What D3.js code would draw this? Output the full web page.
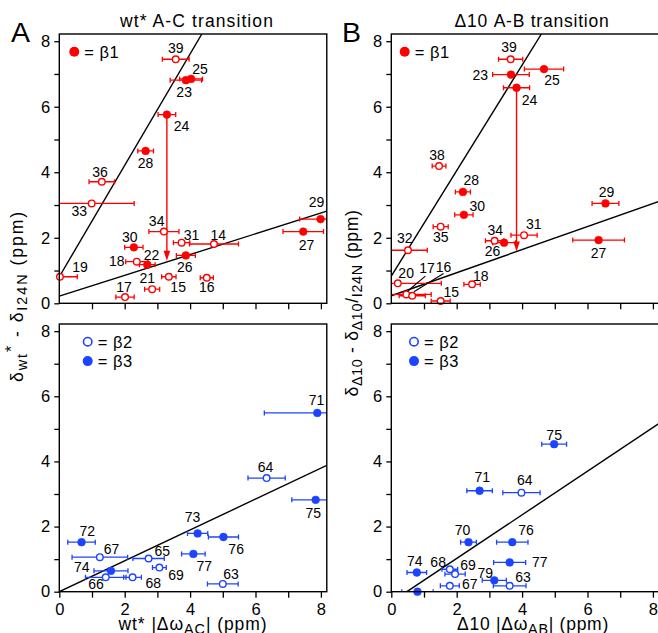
<!DOCTYPE html>
<html><head><meta charset="utf-8">
<script src="https://cdn.jsdelivr.net/npm/d3@7"></script>
<style>
body{margin:0;background:#fff}
svg{display:block}
text{font-family:"Liberation Sans",Arial,Helvetica,sans-serif;fill:#000}
</style>
</head><body><svg id="c" width="658" height="633"></svg>
<script>
// ---- data: [residue, |Δω| (ppm), Δδ (ppm), x error, open(1)/filled(0)] ----
const wtBeta1 = [
 [39,3.56,7.45,0.41,1],[25,4.03,6.85,0.35,0],[23,3.87,6.81,0.48,0],[24,3.29,5.76,0.27,0],
 [28,2.64,4.65,0.24,0],[36,1.30,3.71,0.39,1],[33,0.99,3.05,1.30,1],[34,3.20,2.19,0.46,1],
 [31,3.74,1.85,0.25,1],[14,4.73,1.81,0.75,1],[30,2.28,1.71,0.28,0],[18,2.37,1.27,0.34,1],
 [22,2.69,1.18,0.24,0],[26,3.87,1.46,0.29,0],[19,0.02,0.81,0.53,1],[21,2.84,0.43,0.23,1],
 [15,3.35,0.81,0.22,1],[16,4.51,0.78,0.20,1],[17,2.01,0.19,0.28,1],[29,7.99,2.57,0.64,0],
 [27,7.46,2.19,0.62,0]
];
const wtBeta23 = [
 [71,7.89,5.49,1.62,0],[64,6.34,3.49,0.57,1],[75,7.84,2.82,0.73,0],[73,4.23,1.79,0.31,0],
 [76,5.02,1.68,0.46,0],[77,4.10,1.16,0.36,0],[72,0.68,1.52,0.42,0],[67,1.24,1.06,0.85,1],
 [65,2.73,1.02,0.48,1],[69,3.06,0.74,0.21,1],[74,1.58,0.64,0.52,0],[66,1.42,0.44,0.62,1],
 [68,2.24,0.44,0.27,1],[63,5.00,0.24,0.47,1]
];
const d10Beta1 = [
 [39,3.65,7.45,0.37,1],[23,3.66,6.98,0.56,0],[25,4.67,7.15,0.60,0],[24,3.83,6.58,0.40,0],
 [38,1.46,4.19,0.21,1],[28,2.19,3.40,0.23,0],[30,2.22,2.70,0.28,0],[35,1.51,2.34,0.23,1],
 [32,0.51,1.62,0.59,1],[34,3.16,1.91,0.28,1],[26,3.45,1.85,0.35,0],[31,4.06,2.08,0.40,1],
 [29,6.55,3.05,0.41,0],[27,6.34,1.93,0.79,0],[20,0.20,0.61,1.33,1],[17,0.46,0.27,0.76,1],
 [16,0.64,0.23,0.40,1],[15,1.51,0.07,0.29,1],[18,2.47,0.58,0.25,1]
];
const d10Beta23 = [
 [75,4.98,4.53,0.38,0],[71,2.70,3.10,0.39,0],[64,3.98,3.04,0.57,1],[70,2.36,1.52,0.24,0],
 [76,3.70,1.52,0.48,0],[77,3.62,0.90,0.49,0],[74,0.78,0.59,0.30,0],[68,1.79,0.69,0.24,1],
 [69,1.95,0.54,0.31,1],[79,3.15,0.35,0.37,0],[63,3.62,0.18,0.50,1],[67,1.79,0.18,0.29,1],
 [null,0.80,0.00,0.48,0]
];
// fit lines: [slope, intercept]
const wtBeta1Fits = [[1.70,0.81],[0.317,0.22]];
const wtBeta23Fits = [[0.474,0.0]];
const d10Beta1Fits = [[1.61,0.83],[0.352,0.23]];
const d10Beta23Fits = [[0.67,-0.32]];
// arrows: [x, from y, to y]
const wtArrow = [3.29,5.76,1.30];
const d10Arrow = [3.83,6.58,1.58];
// axis ticks
const tickValues = [0,1,2,3,4,5,6,7,8];
const tickLabels = ["0","","2","","4","","6","","8"];

// ---- label layout (pixel offsets from the point) ----
const wtBeta1Lab = [[0,-11.3],[9,-10.3],[-1.7,12],[14.7,11.7],[0,11.7],[-1.7,-10],[-12.3,7.7],[-7.3,-10.7],
 [10,-7.7],[4.3,-9],[-4,-10.7],[-20,-1],[4.3,-9.7],[-1,11.3],[20,-10],[-5,-11],[9.3,10.7],[0,9],[-1,-9.7],
 [-4,-17.3],[3.3,13.7]];
const wtBeta23Lab = [[-0.7,-12.7],[-1,-11],[-2.3,12.7],[-5,-16.3],[12.7,12],[11,12],[5.7,-11.3],[11.7,-8],
 [13.7,-7],[16.7,7.3],[-29.3,-3.7],[-9.7,7],[20.7,5.3],[8.3,-10.3]];
const d10Beta1Lab = [[-1.7,-12],[-30.7,0.7],[8,11],[13,12.3],[-2,-11],[8.3,-12],[13.3,-9],[0,10.7],[-3.3,-12],
 [0.7,-10.7],[-11.7,8],[9.7,-11],[1,-11],[0,13.3],[8.3,-10.7],[20.7,-26],[31.3,-29],[10.7,-9.3],[8.7,-8.3]];
const d10Beta23Lab = [[0,-9.3],[2.7,-13.7],[3.3,-12.3],[-6,-11.7],[13.7,-11.7],[30,0],[-2,-11.7],[-11.7,-7.7],
 [13,-9.3],[-9,-7.7],[13.3,-8.7],[20,-1.7],[0,0]];
// leader lines for crowded labels (residue -> [x1,y1,x2,y2] offsets)
const d10Leaders = {17:[19,-18.3,1.7,-3.7], 16:[31.3,-22.3,1.7,-4]};

const RED = "#ff0000", BLUE = "#1c44ff";
const FONT = "'Liberation Sans',Arial,Helvetica,sans-serif";
const svg = d3.select("#c");
const XMAX = 8.18, YMAX = 8.22, PXU = 32.7;

let clipN = 0;
function panel(cfg){
  const x = d3.scaleLinear().domain([0,XMAX]).range([cfg.x0, cfg.x0 + XMAX*PXU]);
  const y = d3.scaleLinear().domain([0,YMAX]).range([cfg.yb, cfg.yt]);
  const g = svg.append("g");
  const cid = "clip"+(clipN++);
  g.append("clipPath").attr("id",cid).append("rect")
    .attr("x",x(0)).attr("y",y(YMAX)).attr("width",x(XMAX)-x(0)).attr("height",y(0)-y(YMAX));
  // axes
  const ya = g.append("g").attr("transform",`translate(${x(0)},0)`)
    .call(d3.axisLeft(y).tickValues(tickValues).tickSize(5).tickPadding(4).tickFormat((d,i)=>tickLabels[i]));
  const xa = g.append("g").attr("transform",`translate(0,${y(0)})`)
    .call(d3.axisBottom(x).tickValues(cfg.xLabels ? tickValues : tickValues.slice(1)).tickSize(6).tickPadding(5.3)
      .tickFormat((d,i)=> cfg.xLabels ? tickLabels[i] : ""));
  [ya,xa].forEach(a=>{
    a.select(".domain").remove();
    a.selectAll("line").attr("stroke","#000").attr("stroke-width",1.3);
    a.selectAll("text").attr("font-size",16.5).attr("font-family",FONT).attr("fill","#000");
    a.attr("font-family",FONT);
  });
  const plot = g.append("g");
  const clipped = plot.append("g").attr("clip-path",`url(#${cid})`);
  // fit lines
  cfg.fits.forEach(([m,b])=>{
    const xs = Math.max(0, -b/m), xe = Math.min(XMAX, (YMAX-b)/m);
    clipped.append("line").attr("x1",x(xs)).attr("y1",y(m*xs+b)).attr("x2",x(xe)).attr("y2",y(m*xe+b))
      .attr("stroke","#000").attr("stroke-width",1.4);
  });
  // arrow
  if(cfg.arrow){
    const [ax,y1,y2] = cfg.arrow;
    const tx = x(ax), ty = y(y2);
    plot.append("line").attr("x1",tx).attr("y1",y(y1)).attr("x2",tx).attr("y2",ty-6)
      .attr("stroke",cfg.color).attr("stroke-width",1.4);
    plot.append("path").attr("d",`M${tx},${ty}L${tx-3.3},${ty-10}L${tx+3.3},${ty-10}Z`).attr("fill",cfg.color);
  }
  // error bars
  cfg.data.forEach(d=>{
    const [r,vx,vy,e] = d;
    const eg = clipped.append("g").attr("stroke",cfg.color).attr("stroke-width",1.3);
    eg.append("line").attr("x1",x(vx-e)).attr("x2",x(vx+e)).attr("y1",y(vy)).attr("y2",y(vy));
    [vx-e,vx+e].forEach(v=>eg.append("line").attr("x1",x(v)).attr("x2",x(v)).attr("y1",y(vy)-2.5).attr("y2",y(vy)+2.5));
  });
  // markers
  cfg.data.forEach(d=>{
    const [r,vx,vy,e,open] = d;
    plot.append("circle").attr("cx",x(vx)).attr("cy",y(vy)).attr("r",open?3.3:3.9)
      .attr("fill",open?"#fff":cfg.color).attr("stroke",cfg.color).attr("stroke-width",open?1.4:0.5);
  });
  // labels
  cfg.data.forEach((d,i)=>{
    const [r,vx,vy] = d;
    if(r===null) return;
    const [dx,dy] = cfg.labels[i];
    const px = x(vx), py = y(vy);
    plot.append("text").attr("x",px+dx).attr("y",py+dy+5).attr("text-anchor","middle")
      .attr("font-size",14).attr("font-family",FONT).text(r);
    if(cfg.leaders && cfg.leaders[r]){
      const L = cfg.leaders[r];
      plot.append("line").attr("x1",px+L[0]).attr("y1",py+L[1]).attr("x2",px+L[2]).attr("y2",py+L[3])
        .attr("stroke","#000").attr("stroke-width",1.1);
    }
  });
  // frame
  g.append("rect").attr("x",x(0)).attr("y",y(YMAX)).attr("width",x(XMAX)-x(0)).attr("height",y(0)-y(YMAX))
    .attr("fill","none").attr("stroke","#000").attr("stroke-width",1.4);
  // legend
  cfg.legend.forEach((L,i)=>{
    const ly = cfg.yt + 17.7 + i*19.4;
    const lx = x(0) + cfg.legDx;
    g.append("circle").attr("cx",lx).attr("cy",ly).attr("r",L.open?4.2:5)
      .attr("fill",L.open?"#fff":cfg.color).attr("stroke",cfg.color).attr("stroke-width",L.open?1.6:0);
    g.append("text").attr("x",lx+10).attr("y",ly+5.8).attr("font-size",16.5).attr("font-family",FONT)
      .attr("letter-spacing",0.5).text(L.text);
  });
  return {x,y};
}

panel({x0:59.3, yt:34, yb:303.3, data:wtBeta1, labels:wtBeta1Lab, fits:wtBeta1Fits, arrow:wtArrow, color:RED,
  xLabels:false, legDx:15, legend:[{open:0,text:"= β1"}]});
panel({x0:59.3, yt:324, yb:591.7, data:wtBeta23, labels:wtBeta23Lab, fits:wtBeta23Fits, color:BLUE,
  xLabels:true, legDx:28.4, legend:[{open:1,text:"= β2"},{open:0,text:"= β3"}]});
panel({x0:391.3, yt:34, yb:303.3, data:d10Beta1, labels:d10Beta1Lab, fits:d10Beta1Fits, arrow:d10Arrow, color:RED,
  xLabels:false, legDx:13.4, leaders:d10Leaders, legend:[{open:0,text:"= β1"}]});
panel({x0:391.3, yt:324, yb:591.7, data:d10Beta23, labels:d10Beta23Lab, fits:d10Beta23Fits, color:BLUE,
  xLabels:true, legDx:22.7, legend:[{open:1,text:"= β2"},{open:0,text:"= β3"}]});

// stretch a text to a target width with letter spacing (reference type is set wide)
function fitWidth(sel, target){
  const n = sel.text().length;
  const len = sel.node().getComputedTextLength();
  const ls = Math.max(0,(target-len)/n);
  sel.attr("letter-spacing", ls.toFixed(2));
  return sel;
}
function txt(x,y,size,t,anchor){ return svg.append("text").attr("x",x).attr("y",y).attr("font-size",size)
  .attr("font-family",FONT).attr("text-anchor",anchor||"middle").text(t); }
fitWidth(txt(197,27,17.5,"wt* A-C transition"),154);
fitWidth(txt(532,27,17.5,"Δ10 A-B transition"),155);
txt(11,42,28.5,"A","start");
txt(342,42,28.5,"B","start");

// rich text helper: parts [text, "n"|"sub"|"sup"]
function rich(sel, parts, size){
  parts.forEach(([t,k])=>{
    const ts = sel.append("tspan").text(t);
    if(k==="sub") ts.attr("font-size",size*0.82).attr("baseline-shift","-28%");
    else if(k==="sup") ts.attr("font-size",size*0.9).attr("baseline-shift","35%");
  });
  return sel;
}
const ylab1 = svg.append("text").attr("transform","translate(23,296) rotate(-90)").attr("text-anchor","middle")
  .attr("font-size",17.5).attr("font-family",FONT);
fitWidth(rich(ylab1,[["δ","n"],["wt","sub"],["*","sup"],[" - δ","n"],["I24N","sub"],[" (ppm)","n"]],17.5),172);
const ylab2 = svg.append("text").attr("transform","translate(358,303) rotate(-90)").attr("text-anchor","middle")
  .attr("font-size",17.5).attr("font-family",FONT);
fitWidth(rich(ylab2,[["δ","n"],["Δ10","sub"],[" - δ","n"],["Δ10","sub"],["/","n"],["I24N","sub"],[" (ppm)","n"]],17.5),187);
const xlab1 = svg.append("text").attr("x",193).attr("y",630).attr("text-anchor","middle").attr("font-size",17.5).attr("font-family",FONT);
fitWidth(rich(xlab1,[["wt* |Δω","n"],["AC","sub"],["| (ppm)","n"]],17.5),149);
const xlab2 = svg.append("text").attr("x",533).attr("y",630).attr("text-anchor","middle").attr("font-size",17.5).attr("font-family",FONT);
fitWidth(rich(xlab2,[["Δ10 |Δω","n"],["AB","sub"],["| (ppm)","n"]],17.5),152);
</script>
</body></html>
